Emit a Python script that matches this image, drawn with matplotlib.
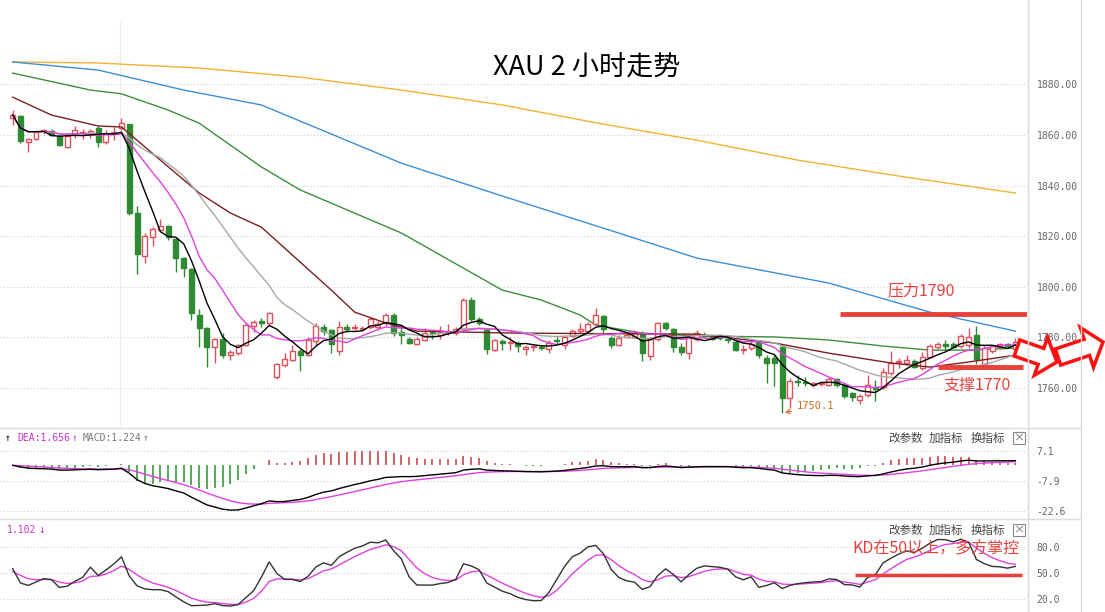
import matplotlib
matplotlib.use("Agg")
import matplotlib.pyplot as plt
import numpy as np
import pandas as pd
from matplotlib.patches import Polygon, Rectangle

plt.rcParams['font.family'] = ['Noto Sans CJK SC', 'DejaVu Sans']

# 2h candles
opens = [1866.7, 1867.5, 1857.2, 1858.3, 1861.5, 1861.7, 1859.6, 1855.4, 1860.0, 1860.8,
         1860.9, 1862.8, 1857.1, 1860.8, 1862.7, 1864.3, 1829.3, 1812.2, 1819.8, 1822.5,
         1823.9, 1818.8, 1811.3, 1806.9, 1788.9, 1783.6, 1776.3, 1779.2, 1773.0, 1773.8,
         1777.0, 1784.5, 1786.4, 1785.6, 1764.2, 1769.1, 1771.1, 1774.6, 1773.0, 1778.5,
         1784.1, 1782.9, 1774.7, 1784.2, 1783.6, 1783.5, 1784.0, 1784.0, 1785.6, 1788.9,
         1782.0, 1779.2, 1777.6, 1779.0, 1782.2, 1781.0, 1781.8, 1781.9, 1783.2, 1795.0,
         1787.1, 1782.9, 1775.0, 1778.6, 1777.7, 1777.9, 1775.3, 1776.1, 1776.2, 1775.3,
         1779.0, 1777.0, 1780.6, 1782.6, 1782.6, 1785.3, 1788.5, 1779.6, 1777.0, 1780.3,
         1780.3, 1781.9, 1772.5, 1779.2, 1785.8, 1783.2, 1776.3, 1774.0, 1779.2, 1781.1,
         1780.5, 1780.3, 1779.4, 1778.3, 1775.0, 1775.7, 1778.3, 1772.0, 1772.0, 1776.3,
         1755.9, 1762.8, 1762.4, 1761.2, 1761.5, 1761.2, 1763.4, 1761.2, 1757.9, 1755.2,
         1757.2, 1760.5, 1760.5, 1765.8, 1770.2, 1770.0, 1770.8, 1767.8, 1772.4, 1776.3,
         1777.3, 1777.6, 1776.6, 1777.0, 1781.0, 1769.7, 1774.7, 1776.3, 1777.6, 1775.3]
highs = [1870.0, 1868.0, 1858.8, 1862.0, 1862.5, 1862.5, 1860.0, 1860.0, 1863.5, 1862.5,
         1862.5, 1863.5, 1862.0, 1863.0, 1866.6, 1864.5, 1831.8, 1821.4, 1823.5, 1827.0,
         1824.5, 1819.5, 1812.0, 1807.5, 1791.2, 1784.0, 1779.8, 1781.9, 1775.0, 1777.5,
         1785.5, 1787.0, 1787.6, 1790.2, 1770.0, 1773.7, 1777.0, 1775.5, 1780.3, 1785.8,
         1785.5, 1783.5, 1786.6, 1785.5, 1785.4, 1784.5, 1788.0, 1786.5, 1789.8, 1789.5,
         1784.5, 1780.0, 1780.2, 1783.6, 1783.0, 1784.5, 1785.5, 1784.0, 1795.4, 1796.0,
         1788.0, 1783.5, 1779.5, 1779.5, 1780.0, 1778.5, 1777.0, 1777.5, 1777.0, 1779.0,
         1780.5, 1781.0, 1783.5, 1785.6, 1786.0, 1791.5, 1789.0, 1780.5, 1781.0, 1782.0,
         1783.0, 1782.5, 1780.0, 1786.3, 1786.3, 1783.8, 1778.0, 1781.7, 1783.0, 1782.0,
         1781.0, 1781.0, 1780.0, 1779.0, 1777.0, 1778.5, 1779.0, 1773.0, 1773.0, 1777.0,
         1764.0, 1765.0, 1764.2, 1762.5, 1762.5, 1764.5, 1764.0, 1761.8, 1758.3, 1757.5,
         1765.0, 1763.0, 1768.0, 1774.7, 1772.0, 1773.0, 1771.5, 1774.3, 1777.5, 1778.2,
         1779.0, 1778.3, 1781.3, 1783.6, 1784.5, 1777.0, 1777.0, 1778.0, 1778.0, 1779.8]
lows = [1864.0, 1857.0, 1853.4, 1858.0, 1860.5, 1859.5, 1855.5, 1855.0, 1859.0, 1858.5,
        1859.0, 1855.4, 1856.5, 1858.0, 1862.0, 1828.5, 1805.0, 1809.6, 1816.0, 1822.0,
        1818.5, 1806.0, 1803.9, 1786.9, 1776.3, 1768.4, 1770.0, 1772.0, 1771.0, 1773.0,
        1776.5, 1782.0, 1784.2, 1785.0, 1763.5, 1768.5, 1770.5, 1766.6, 1772.5, 1777.0,
        1781.0, 1774.0, 1773.0, 1782.0, 1783.0, 1783.0, 1783.5, 1783.0, 1784.5, 1780.5,
        1777.4, 1777.5, 1777.0, 1778.5, 1779.5, 1779.5, 1781.0, 1781.0, 1782.5, 1786.5,
        1785.0, 1773.6, 1774.5, 1775.0, 1775.0, 1774.4, 1773.0, 1774.8, 1775.0, 1773.8,
        1777.5, 1775.5, 1780.0, 1781.7, 1782.0, 1785.0, 1781.0, 1776.0, 1776.5, 1779.6,
        1780.0, 1770.8, 1771.0, 1778.5, 1783.0, 1774.3, 1773.0, 1771.6, 1778.5, 1779.8,
        1779.0, 1779.0, 1777.7, 1774.5, 1773.6, 1775.0, 1772.0, 1762.0, 1761.0, 1750.1,
        1752.0, 1760.8, 1760.8, 1760.5, 1761.0, 1760.8, 1760.5, 1756.0, 1755.0, 1753.5,
        1756.5, 1755.0, 1759.8, 1765.0, 1768.0, 1769.0, 1767.8, 1767.0, 1771.8, 1775.5,
        1775.0, 1775.8, 1776.0, 1776.0, 1769.5, 1768.3, 1774.0, 1775.5, 1776.3, 1775.0]
closes = [1867.9, 1857.7, 1858.4, 1861.3, 1861.9, 1860.0, 1856.0, 1859.6, 1862.0, 1861.3,
          1861.5, 1857.4, 1860.6, 1861.3, 1864.9, 1829.3, 1812.9, 1820.1, 1822.8, 1824.0,
          1819.8, 1811.3, 1807.3, 1789.5, 1783.6, 1776.3, 1779.2, 1773.0, 1774.4, 1777.0,
          1784.9, 1786.2, 1785.8, 1789.8, 1769.5, 1771.3, 1774.8, 1773.0, 1779.0, 1784.4,
          1782.6, 1777.6, 1784.0, 1783.4, 1784.2, 1783.9, 1787.1, 1785.5, 1788.9, 1781.6,
          1781.0, 1777.9, 1779.2, 1781.6, 1781.6, 1782.3, 1782.3, 1783.2, 1794.8, 1787.1,
          1785.6, 1775.3, 1779.0, 1778.0, 1778.2, 1776.6, 1776.3, 1776.5, 1775.8, 1777.9,
          1778.4, 1780.0, 1782.6, 1783.2, 1785.3, 1788.9, 1783.2, 1777.0, 1779.6, 1780.9,
          1781.6, 1773.8, 1779.2, 1785.8, 1783.6, 1776.3, 1774.3, 1780.9, 1781.6, 1780.7,
          1779.5, 1779.7, 1779.0, 1775.0, 1775.6, 1777.6, 1773.0, 1770.0, 1770.0, 1755.9,
          1762.9, 1762.2, 1762.0, 1762.0, 1761.9, 1763.4, 1761.2, 1756.8, 1756.6, 1756.8,
          1761.2, 1759.8, 1766.4, 1770.0, 1770.8, 1771.0, 1768.4, 1772.1, 1776.6, 1777.6,
          1776.7, 1776.3, 1780.6, 1780.0, 1771.5, 1776.0, 1776.6, 1777.4, 1776.8, 1778.3]

# slow averages, read at a few candle positions
ma30_pos = [0, 5, 11, 14, 19, 24, 28, 32, 41, 44, 48, 52, 65, 88, 98, 105, 113, 118, 123, 129]
ma30_val = [1875.0, 1867.9, 1863.6, 1863.2, 1850.1, 1837.1, 1829.2, 1823.6, 1798.7, 1790.0,
            1785.7, 1782.5, 1781.7, 1781.3, 1777.8, 1773.8, 1769.9, 1768.3, 1770.3, 1773.0]
ma60_pos = [0, 10, 14, 20, 24, 32, 37, 50, 63, 68, 73, 75, 81, 88, 98, 105, 112, 118, 123, 129]
ma60_val = [1884.5, 1877.8, 1876.3, 1869.9, 1864.7, 1847.4, 1838.3, 1821.3, 1798.7, 1794.8,
            1788.9, 1784.9, 1781.7, 1780.6, 1780.2, 1779.0, 1776.6, 1775.0, 1775.0, 1775.8]
ma120_pos = [0, 11, 22, 32, 50, 63, 76, 88, 105, 118, 129]
ma120_val = [1888.9, 1885.7, 1877.8, 1871.9, 1848.9, 1835.9, 1823.2, 1811.4, 1801.5, 1790.0, 1782.5]
ma250_pos = [0, 11, 24, 37, 50, 63, 76, 88, 101, 114, 129]
ma250_val = [1888.9, 1888.5, 1886.5, 1882.9, 1877.8, 1871.9, 1864.3, 1858.0, 1850.1, 1843.8, 1837.1]

price_ticks = [1760, 1780, 1800, 1820, 1840, 1860, 1880]
macd_ticks = [7.1, -7.9, -22.6]
kd_ticks = [80.0, 50.0, 20.0]

W, H = 1105, 612
fig = plt.figure(figsize=(W / 100, H / 100), dpi=100)


def px_axes(x0, y0, x1, y1):
    a = fig.add_axes([x0 / W, 1 - y1 / H, (x1 - x0) / W, (y1 - y0) / H])
    for s in a.spines.values():
        s.set_visible(False)
    a.set_xticks([])
    a.yaxis.tick_right()
    a.tick_params(axis='y', length=0, pad=7, labelsize=7, labelcolor='#666666')
    a.set_xlim(-1.63, 130.5)
    return a


def style_ticks(a, ticks, fmt):
    a.set_yticks(ticks)
    a.set_yticklabels([fmt.format(t) for t in ticks], fontfamily='DejaVu Sans Mono')
    for t in ticks:
        a.axhline(t, color='#cfcfcf', lw=0.8, ls=(0, (1, 2)), zorder=0)


df = pd.DataFrame({'o': opens, 'h': highs, 'l': lows, 'c': closes})
idx = np.arange(len(df))
up_c = '#e0505a'
dn_c = '#2e8b34'

# ---- price panel
ax = px_axes(0, 22, 1027, 427)
ax.set_ylim(1744.6, 1904.7)
style_ticks(ax, price_ticks, '{:.2f}')
ax.axvline(13.8, color='#ececec', lw=0.8, zorder=0)

up = df.c >= df.o
cols = np.where(up, up_c, dn_c)
ax.vlines(idx, df.l, df.h, colors=cols, lw=1, zorder=3)
body_lo = np.minimum(df.o, df.c)
body_h = np.maximum(np.abs(df.c - df.o), 0.35)
ax.bar(idx, body_h, bottom=body_lo, width=0.64, color=np.where(up, 'white', dn_c),
       edgecolor=cols, linewidth=1, zorder=4)

ax.plot(ma250_pos, ma250_val, color='#f2b233', lw=1, zorder=2)
ax.plot(ma120_pos, ma120_val, color='#3b8fd8', lw=1, zorder=2)
ax.plot(ma60_pos, ma60_val, color='#3c8f3c', lw=1, zorder=2)
ax.plot(ma30_pos, ma30_val, color='#7a1f1f', lw=1, zorder=5)
ax.plot(idx, df.c.rolling(20, min_periods=1).mean(), color='#a8a8a8', lw=1, zorder=5)
ax.plot(idx, df.c.rolling(10, min_periods=1).mean(), color='#e040e0', lw=1, zorder=5)
ax.plot(idx, df.c.rolling(5, min_periods=1).mean(), color='black', lw=1, zorder=6)

red = '#e8413c'
ax.hlines(1789.2, 106.5, 130.5, color=red, lw=3.5, zorder=7)
ax.text(112.5, 1798.3, '压力1790', color=red, fontsize=11.5, va='center', zorder=8)
ax.hlines(1768.4, 119.0, 130.0, color=red, lw=3.5, zorder=7)
ax.text(119.8, 1761.2, '支撑1770', color=red, fontsize=11.5, va='center', zorder=8)
low_i = int(np.argmin(df.l))
ax.annotate(f'{df.l[low_i]:.1f}', xy=(low_i, df.l[low_i]), xytext=(low_i + 1.9, 1752.9),
            color='#d2691e', fontsize=7.5, fontfamily='DejaVu Sans Mono', va='center',
            arrowprops=dict(arrowstyle='->', color='#d2691e', lw=0.8), zorder=8)

# ---- MACD panel
ema12 = df.c.ewm(span=12, adjust=False).mean()
ema26 = df.c.ewm(span=26, adjust=False).mean()
dif = ema12 - ema26
dea = dif.ewm(span=9, adjust=False).mean()
hist = 2 * (dif - dea)

ax2 = px_axes(0, 428, 1027, 520)
ax2.set_ylim(-27.1, 18.5)
style_ticks(ax2, macd_ticks, '{:.1f}')
ax2.vlines(idx, 0, hist, colors=np.where(hist >= 0, '#c8484e', '#3a9a3a'), lw=1.2, zorder=2)
ax2.plot(idx, dea, color='#e040e0', lw=1, zorder=3)
ax2.plot(idx, dif, color='black', lw=1, zorder=4)

# ---- KD panel
ll = df.l.rolling(9, min_periods=1).min()
hh = df.h.rolling(9, min_periods=1).max()
rsv = (df.c - ll) / (hh - ll) * 100
k_line, d_line = [], []
k, d = 50.0, 50.0
for r in rsv:
    k = 2 / 3 * k + r / 3
    d = 2 / 3 * d + k / 3
    k_line.append(k)
    d_line.append(d)

ax3 = px_axes(0, 521, 1027, 612)
ax3.set_ylim(5, 110)
style_ticks(ax3, kd_ticks, '{:.1f}')
ax3.plot(idx, d_line, color='#e040e0', lw=1, zorder=3)
ax3.plot(idx, k_line, color='#333333', lw=1, zorder=4)
ax3.hlines(48, 108.4, 129.8, color=red, lw=2.5, zorder=5)
ax3.text(108.0, 77.5, 'KD在50以上，多方掌控', color=red, fontsize=11.5, va='center', zorder=6)

# ---- frame, headers and arrows
ov = fig.add_axes([0, 0, 1, 1], zorder=10)
ov.set_xlim(0, W)
ov.set_ylim(H, 0)
ov.axis('off')
ov.patch.set_alpha(0)
for xv in (1027.5, 1080.5):
    ov.plot([xv, xv], [0, H], color='#d9d9d9', lw=1)
for yv in (428, 519):
    ov.plot([0, 1080.5], [yv, yv], color='#dcdcdc', lw=1)

ov.text(587, 68, 'XAU 2 小时走势', fontsize=19.5, ha='center', va='center')

mono = 'DejaVu Sans Mono'
ov.text(5, 438, '↑', color='black', fontsize=7, fontfamily=mono, va='center')
ov.text(17, 438, f'DEA:{1.656:.3f}', color='#d030d0', fontsize=7, fontfamily=mono, va='center')
ov.text(72, 438, '↑', color='#d030d0', fontsize=7, fontfamily=mono, va='center')
ov.text(83, 438, f'MACD:{1.224:.3f}', color='#777777', fontsize=7, fontfamily=mono, va='center')
ov.text(143, 438, '↑', color='#777777', fontsize=7, fontfamily=mono, va='center')
ov.text(7, 530, f'{1.102:.3f}', color='#d030d0', fontsize=7, fontfamily=mono, va='center')
ov.text(38, 530, '↓', color='#d030d0', fontsize=8, fontfamily=mono, va='center')

for yv in (438, 530):
    for xv, s in ((888, '改参数'), (929, '加指标'), (971, '换指标')):
        ov.text(xv, yv, s, fontsize=8.3, color='#444444', va='center')
    ov.add_patch(Rectangle((1013, yv - 6), 12, 12, fc='white', ec='#888888', lw=0.8))
    ov.text(1019, yv, '×', fontsize=8, color='#666666', ha='center', va='center')


def block_arrow(tail, tip, shaft_w, head_w, head_l):
    t = np.array(tail, float)
    p = np.array(tip, float)
    u = (p - t) / np.hypot(*(p - t))
    n = np.array([-u[1], u[0]])
    b = p - u * head_l
    pts = [t + n * shaft_w / 2, b + n * shaft_w / 2, b + n * head_w / 2, p,
           b - n * head_w / 2, b - n * shaft_w / 2, t - n * shaft_w / 2]
    return Polygon(pts, closed=True, fc='white', ec='#ff1010', lw=2.5, joinstyle='miter')


ov.add_patch(block_arrow((1017, 348), (1057, 362), 17, 40, 17))
ov.add_patch(block_arrow((1058, 357), (1103, 342), 17, 42, 17))

fig.savefig('out.png', dpi=100)
